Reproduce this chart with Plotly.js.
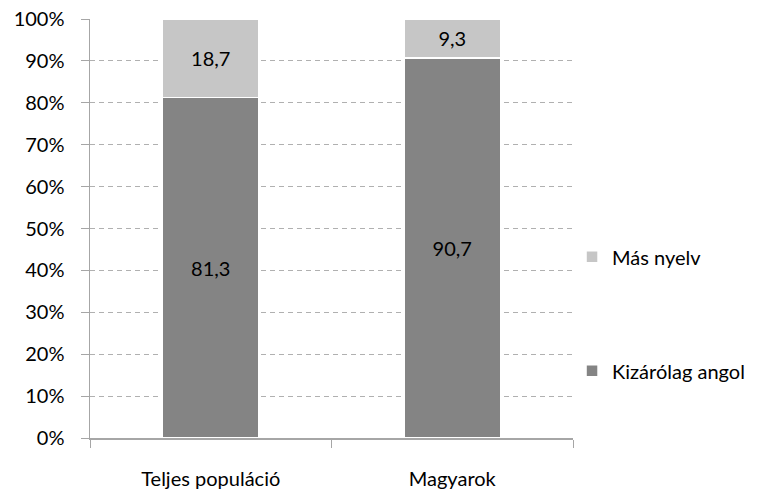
<!DOCTYPE html>
<html><head><meta charset="utf-8">
<script src="https://cdn.plot.ly/plotly-3.0.1.min.js"></script>
<style>body{margin:0}#c{width:780px;height:494px}</style>
</head><body><div id="c"></div>
<script>
const categories = ["Teljes populáció", "Magyarok"];
const kizarolagAngol = [81.3, 90.7];
const masNyelv = [18.7, 9.3];
const seriesNames = ["Kizárólag angol", "Más nyelv"];
const fmt = v => v.toFixed(1).replace('.', ',');
const font = {family: "Lato, 'Open Sans', sans-serif", size: 20, color: "#000"};
const traces = [
  {type:'bar', x:categories, y:kizarolagAngol, name:seriesNames[0], legendgroup:'a', legendrank:2,
   marker:{color:'#848484', line:{color:'#ffffff', width:1.5}},
   text:kizarolagAngol.map(fmt), textposition:'inside', insidetextanchor:'middle',
   textfont:font, hoverinfo:'none'},
  {type:'bar', x:categories, y:masNyelv, name:seriesNames[1], legendgroup:'b', legendrank:1,
   marker:{color:'#c6c6c6', line:{color:'#ffffff', width:1.5}},
   text:masNyelv.map(fmt), textposition:'inside', insidetextanchor:'middle',
   textfont:font, hoverinfo:'none'}
];
const layout = {
  width:780, height:494, barmode:'stack', bargap:0.6,
  margin:{l:90, r:207, t:19, b:56},
  paper_bgcolor:'#fff', plot_bgcolor:'#fff',
  font:font, showlegend:true,
  legend:{x:0.998, xanchor:'left', y:0.479, yanchor:'top', traceorder:'grouped',
          tracegroupgap:85, font:font, itemwidth:30},
  xaxis:{type:'category', showline:true, linecolor:'#a6a6a6', linewidth:1.5,
         ticks:'outside', tickson:'boundaries', ticklen:8, tickcolor:'#a6a6a6',
         tickfont:font, showgrid:false, ticklabelstandoff:22},
  yaxis:{range:[0,100], dtick:10, ticksuffix:'%', showline:true, linecolor:'#a6a6a6',
         linewidth:1.5, ticks:'outside', ticklen:8, tickcolor:'#a6a6a6',
         showgrid:true, gridcolor:'#b0b0b0', griddash:'5px,4px', gridwidth:1,
         tickfont:font, zeroline:false, ticklabelstandoff:12}
};
Plotly.newPlot('c', traces, layout, {staticPlot:true});
</script></body></html>
